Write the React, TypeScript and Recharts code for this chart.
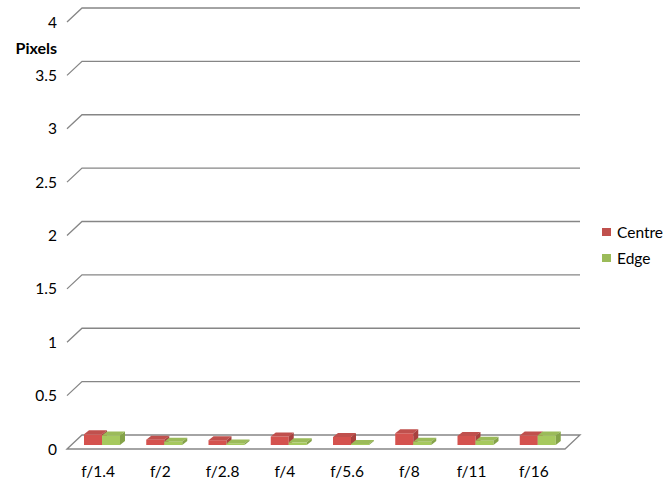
import React from 'react';
import { BarChart, Bar, XAxis, YAxis, CartesianGrid } from 'recharts';

const categories = ['f/1.4', 'f/2', 'f/2.8', 'f/4', 'f/5.6', 'f/8', 'f/11', 'f/16'];
const centreValues = [0.1, 0.05, 0.045, 0.08, 0.075, 0.11, 0.085, 0.09];
const edgeValues = [0.09, 0.03, 0.015, 0.025, 0.01, 0.03, 0.04, 0.09];
const yTicks = [0, 0.5, 1, 1.5, 2, 2.5, 3, 3.5, 4];
const seriesNames = ['Centre', 'Edge'];

const data = categories.map((c, i) => ({ name: c, Centre: centreValues[i], Edge: edgeValues[i] }));

const FONT = 'Lato, "Noto Sans", sans-serif';
const DX = 15; // back wall offset
const DY = -14;

const palette = {
  Centre: { front: '#D4524E', top: '#C0504D', side: '#A8413E' },
  Edge: { front: '#A6C95E', top: '#9BBB59', side: '#84A348' },
};

const Bar3D = (props: any) => {
  const { x, y, width, height, colors } = props;
  if (x == null || y == null) return null;
  const sx = 4, sy = -4, dx = 5, dy = -4;
  const x0 = x + sx;
  const y0 = y + sy;
  const w = width;
  const h = Math.max(height, 0.5);
  return (
    <g>
      <rect x={x0} y={y0} width={w} height={h} fill={colors.front} />
      <polygon
        points={`${x0},${y0} ${x0 + dx},${y0 + dy} ${x0 + w + dx},${y0 + dy} ${x0 + w},${y0}`}
        fill={colors.top}
      />
      <polygon
        points={`${x0 + w},${y0} ${x0 + w + dx},${y0 + dy} ${x0 + w + dx},${y0 + h + dy} ${x0 + w},${y0 + h}`}
        fill={colors.side}
      />
    </g>
  );
};

const GridLine = (props: any) => {
  const { x1, x2, y1, index } = props;
  const stroke = '#868686';
  if (index === 0) {
    return (
      <path
        key={`g-${index}`}
        d={`M${x1},${y1} L${x1 + DX},${y1 + DY} L${x2 + DX},${y1 + DY} L${x2},${y1} Z`}
        fill="none"
        stroke={stroke}
        strokeWidth={1.3}
      />
    );
  }
  return (
    <path
      key={`g-${index}`}
      d={`M${x1},${y1} L${x1 + DX},${y1 + DY} L${x2 + DX},${y1 + DY}`}
      fill="none"
      stroke={stroke}
      strokeWidth={1.3}
    />
  );
};

const XTick = (props: any) => {
  const { x, y, payload } = props;
  return (
    <text x={x} y={y + 28} textAnchor="middle" fontSize={15.5} fontFamily={FONT} fill="#000">
      {payload.value}
    </text>
  );
};

const YTick = (props: any) => {
  const { y, payload } = props;
  return (
    <text x={57} y={y} dy="0.36em" textAnchor="end" fontSize={15.5} fontFamily={FONT} fill="#000">
      {payload.value}
    </text>
  );
};

export default function App() {
  return (
    <div style={{ position: 'absolute', left: 0, top: 0, width: 670, height: 487, background: '#fff' }}>
      <BarChart
        width={670}
        height={487}
        data={data}
        margin={{ top: 22, right: 105, bottom: 0, left: 0 }}
        barGap={0}
      >
        <CartesianGrid horizontal={GridLine} vertical={false} />
        <XAxis
          dataKey="name"
          height={38}
          tickLine={false}
          axisLine={false}
          tickSize={0}
          tickMargin={0}
          tick={<XTick />}
          interval={0}
        />
        <YAxis
          width={67}
          domain={[0, 4]}
          ticks={yTicks}
          tickLine={false}
          axisLine={false}
          tick={<YTick />}
          interval={0}
          label={{
            content: () => (
              <text x={57} y={54} textAnchor="end" fontSize={16} fontWeight="bold" fontFamily={FONT} fill="#000">
                Pixels
              </text>
            ),
          }}
        />
        {seriesNames.map((s) => (
          <Bar
            key={s}
            dataKey={s}
            barSize={18}
            isAnimationActive={false}
            shape={(p: any) => <Bar3D {...p} colors={(palette as any)[s]} />}
          />
        ))}
      </BarChart>
      <div style={{ position: 'absolute', left: 602, top: 219, fontFamily: FONT, fontSize: 15.5, color: '#000' }}>
        {seriesNames.map((s) => (
          <div key={s} style={{ display: 'flex', alignItems: 'center', height: 26 }}>
            <span style={{ display: 'inline-block', width: 9, height: 8, background: (palette as any)[s].top, marginRight: 6 }} />
            <span>{s}</span>
          </div>
        ))}
      </div>
    </div>
  );
}
